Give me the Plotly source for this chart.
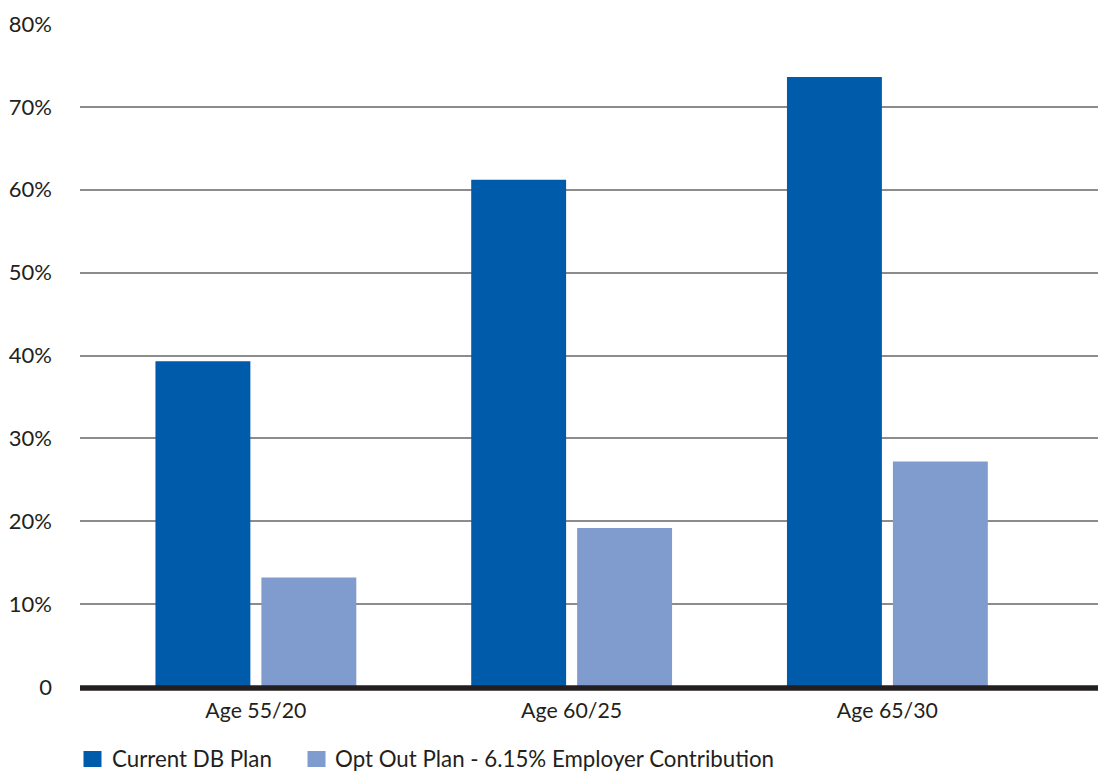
import plotly.graph_objects as go

categories = ["Age 55/20", "Age 60/25", "Age 65/30"]
current_db = [39.3, 61.2, 73.6]
opt_out = [13.2, 19.2, 27.2]
series_names = ["Current DB Plan", "Opt Out Plan - 6.15% Employer Contribution"]
y_tick_vals = [0, 10, 20, 30, 40, 50, 60, 70, 80]
y_tick_text = ["0", "10%", "20%", "30%", "40%", "50%", "60%", "70%", "80%"]

dark_blue = "#005BAA"
light_blue = "#809BCE"
text_color = "#231F20"
font_family = "Lato, 'Open Sans', sans-serif"

W, H = 1098, 774
ML, MR, MT, MB = 80, 0, 24, 87
PW, PH = W - ML - MR, H - MT - MB


def px_x(p):
    return (p - ML) / PW


def px_y(p):
    return (H - MB - p) / PH


fig = go.Figure()
xs = list(range(len(categories)))
fig.add_trace(go.Bar(x=xs, y=current_db, name=series_names[0],
                     marker=dict(color=dark_blue, line=dict(width=0))))
fig.add_trace(go.Bar(x=xs, y=opt_out, name=series_names[1],
                     marker=dict(color=light_blue, line=dict(width=0))))

# thick baseline drawn above bars (paper ref so it is not clipped)
fig.add_shape(type="line", xref="paper", yref="paper", x0=0, x1=1,
              y0=px_y(688), y1=px_y(688),
              line=dict(color=text_color, width=5.5), layer="above")

# manual legend
legend_items = [(series_names[0], dark_blue, 83.5, 110), (series_names[1], light_blue, 307.5, 333)]
for name, col, sx, tx in legend_items:
    fig.add_shape(type="rect", xref="paper", yref="paper",
                  x0=px_x(sx), x1=px_x(sx + 18), y0=px_y(767), y1=px_y(751),
                  fillcolor=col, line=dict(width=0))
    fig.add_annotation(xref="paper", yref="paper", x=px_x(tx), y=px_y(758),
                       xanchor="left", yanchor="middle", text=name, showarrow=False,
                       font=dict(size=22.3, color=text_color, family=font_family))

fig.update_layout(
    width=W, height=H,
    margin=dict(l=ML, r=MR, t=MT, b=MB, pad=0),
    paper_bgcolor="white", plot_bgcolor="white",
    barmode="group", bargap=0.329, bargroupgap=0.104,
    font=dict(family=font_family, color=text_color, size=22),
    showlegend=False,
)
fig.update_xaxes(
    range=[-0.557, 2.667], tickmode="array", tickvals=xs,
    ticktext=categories, showgrid=False, zeroline=False, showline=False,
    ticks="", tickfont=dict(size=21.3, color=text_color), ticklabelstandoff=9,
)
fig.update_yaxes(
    range=[0, 80], tickmode="array", tickvals=y_tick_vals, ticktext=y_tick_text,
    showgrid=True, gridcolor="#8C8C8C", gridwidth=1.5,
    zeroline=False, showline=False,
    ticks="", tickfont=dict(size=22, color=text_color), ticklabelstandoff=27,
)

fig.write_html("out.html", config={"displayModeBar": False},
               post_script="document.body.style.margin='0px';")
